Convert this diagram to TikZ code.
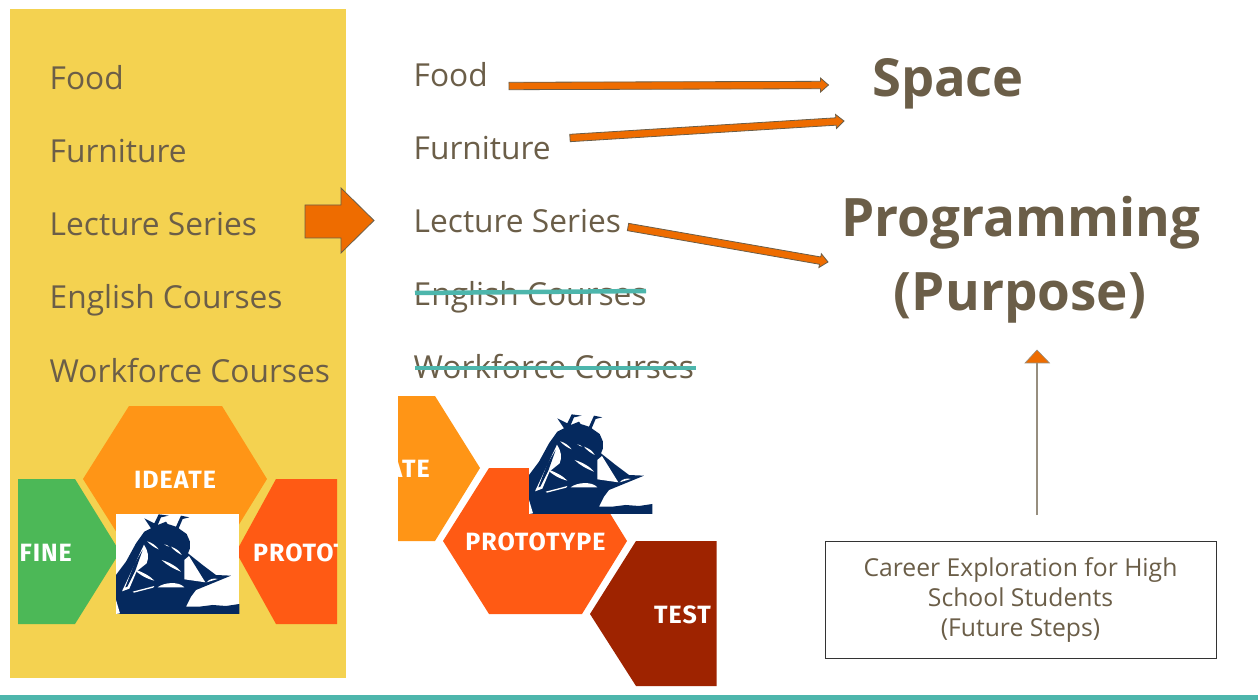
\documentclass[tikz,border=0pt]{standalone}
\usepackage{fontspec}
\setmainfont{Open Sans}
\newfontfamily\hexfont[LetterSpace=4]{Fira Sans}
\usetikzlibrary{calc}
\definecolor{txt}{HTML}{6B5E48}
\definecolor{yel}{HTML}{F4D250}
\definecolor{teal1}{HTML}{4DB6AC}
\definecolor{org}{HTML}{EE6C00}
\definecolor{ideate}{HTML}{FF9516}
\definecolor{definec}{HTML}{4CB857}
\definecolor{proto}{HTML}{FF5A14}
\definecolor{testc}{HTML}{9E2300}
\definecolor{navy}{HTML}{05295E}
\tikzset{
  x=1pt,y=-1pt,
  item/.style={anchor=base west,inner sep=0pt,text=txt,font=\fontsize{31.7}{32}\selectfont},
  head/.style={inner sep=0pt,text=txt,font=\fontsize{53}{53}\selectfont\bfseries},
  hexlabel/.style={inner sep=0pt,text=white,font=\hexfont\fontsize{25}{25}\selectfont\bfseries},
  blockarrow/.style={fill=org,draw=txt,line width=0.8pt},
  strike/.style={draw=teal1,line width=4.5pt},
}
% thin block arrow between two named coordinates
\newcommand{\thinarrow}[2]{%
  \coordinate (neck) at ($(#2)!8pt!(#1)$);
  \draw[blockarrow,line join=miter] ($(#1)!3.7pt!90:(#2)$) -- ($(neck)!3.7pt!90:(#2)$) -- ($(neck)!7pt!90:(#2)$) -- (#2)
    -- ($(neck)!7pt!-90:(#2)$) -- ($(neck)!3.7pt!-90:(#2)$) -- ($(#1)!3.7pt!-90:(#2)$) -- cycle;}
% ship drawn in a white box; #1 = top-left corner of the box
\newcommand{\ship}[1]{%
  \begin{scope}[shift={(#1)},x=0.3333pt,y=-0.3333pt]
   \fill[white] (0,0) rectangle (370,300);
   \fill[navy] (0,300) -- (0,183) -- (30,143) -- (60,88) -- (85,53) -- (105,43) -- (85,13) -- (115,28) -- (128,1) -- (158,5) -- (135,10) -- (125,33)
     -- (150,23) -- (155,30) -- (180,38) -- (195,5) -- (220,10) -- (200,15) -- (188,43) -- (212,60) -- (222,83) -- (222,103) -- (216,118)
     -- (260,153) -- (300,183) -- (345,185) -- (240,228) -- (225,248) -- (210,278) -- (250,278) -- (290,273) -- (330,276) -- (370,270) -- (370,300) -- cycle;
   \fill[white] (219,126) -- (205,138) -- (205,196) -- (268,205) -- cycle;
   \fill[white] (125,220) .. controls (145,204) and (190,202) .. (205,220) -- cycle;
   \fill[white] (272,205) .. controls (280,194) and (295,192) .. (305,195) -- cycle;
   \fill[white] (94,82) .. controls (108,86) and (120,95) .. (128,106) .. controls (114,100) and (102,92) .. (94,82) -- cycle;
   \fill[white] (145,91) .. controls (150,92) and (156,94) .. (160,98) .. controls (155,97) and (149,95) .. (145,91) -- cycle;
   \fill[white] (165,98) .. controls (180,103) and (192,112) .. (197,123) .. controls (184,116) and (173,108) .. (165,98) -- cycle;
   \fill[white] (137,138) .. controls (160,145) and (182,157) .. (195,173) .. controls (172,164) and (152,153) .. (137,138) -- cycle;
   \fill[white] (55,166) .. controls (80,174) and (102,186) .. (115,200) .. controls (92,194) and (70,183) .. (55,166) -- cycle;
   \fill[white] (84,92) .. controls (96,110) and (100,130) .. (92,148) -- (62,172) -- (40,224) -- (18,232) -- cycle;
   \fill[navy] (80,108) -- (58,170) -- (34,218) -- (28,220) -- (55,150) -- cycle;
   \fill[white] (50,233) -- (115,216) -- (112,221) -- (54,236) -- cycle;
   \fill[white] (0,258) -- (12,298) -- (0,300) -- cycle;
  \end{scope}}
\begin{document}
\begin{tikzpicture}
\useasboundingbox (0,0) rectangle (1258,700);
\fill[white] (0,0) rectangle (1258,700);
\fill[teal1] (0,695) rectangle (1258,700);
\fill[yel] (10,9) rectangle (345.5,678);

% left column
\node[item] (lfood) at (49.5,90) {Food};
\node[item] (lfurn) at (49.5,163) {Furniture};
\node[item] (llect) at (49.5,236) {Lecture Series};
\node[item] (leng) at (49.5,309) {English Courses};
\node[item] (lwork) at (49.5,382) {Workforce Courses};

% left hexagons
\fill[ideate] (129,406) -- (222,406) -- (267,479) -- (222,552) -- (129,552) -- (83,479) -- cycle;
\node[hexlabel] (hideate) at (175,480) {IDEATE};
\begin{scope}
 \clip (18,470) rectangle (120,630);
 \fill[definec] (18,479) -- (75,479) -- (120,552) -- (75,624) -- (18,624) -- cycle;
\end{scope}
\node[hexlabel,anchor=east] (hdefine) at (72,553) {FINE};
\begin{scope}
 \clip (235,470) rectangle (337,630);
 \fill[proto] (236,552) -- (276,479) -- (340,479) -- (340,624) -- (276,624) -- cycle;
 \node[hexlabel,anchor=west] (hproto) at (253,553) {PROTOTYPE};
\end{scope}
\ship{116,514}

% big arrow
\draw[blockarrow] (305,205) -- (341,205) -- (341,188) -- (374,220.5) -- (341,253) -- (341,238) -- (305,238) -- cycle;

% middle column
\node[item] (mfood) at (413.5,87) {Food};
\node[item] (mfurn) at (413.5,160) {Furniture};
\node[item] (mlect) at (413.5,233) {Lecture Series};
\node[item] (meng) at (413.5,306) {English Courses};
\node[item] (mwork) at (413.5,379) {Workforce Courses};
\coordinate (e1a) at (415,293); \coordinate (e1b) at (646,291);
\coordinate (e2a) at (415,368); \coordinate (e2b) at (696,368);
\draw[strike] (e1a) -- (e1b);
\draw[strike] (e2a) -- (e2b);

% headings
\node[head,font=\fontsize{52.5}{52}\selectfont\bfseries] (space) at (948,84) {Space};
\node[head] (prog) at (1021,223) {Programming};
\node[head] (purp) at (1020,298) {(Purpose)};

% thin arrows
\coordinate (a1) at (509,86); \coordinate (b1) at (828.5,85);
\coordinate (a2) at (570,138); \coordinate (b2) at (844,121);
\coordinate (a3) at (628,227); \coordinate (b3) at (828,262);
\thinarrow{a1}{b1}
\thinarrow{a2}{b2}
\thinarrow{a3}{b3}

% right hexagons
\begin{scope}
 \clip (398,390) rectangle (490,550);
 \fill[ideate] (398,396) -- (435,396) -- (480,468) -- (435,541) -- (398,541) -- cycle;
 \node[hexlabel,anchor=east] (mideate) at (430,469) {IDEATE};
\end{scope}
\fill[proto] (489,468) -- (582,468) -- (627,541) -- (582,614) -- (489,614) -- (443,541) -- cycle;
\node[hexlabel] (mproto) at (535.5,542) {PROTOTYPE};
\fill[testc] (590,614) -- (636,541) -- (716.5,541) -- (716.5,686) -- (636,686) -- cycle;
\node[hexlabel,anchor=east] (mtest) at (711,615) {TEST};
\ship{529,414}

% career box
\node[draw=black!80,line width=1pt,minimum width=391pt,minimum height=117.5pt,inner sep=0pt,align=center,text=txt,
  font=\fontsize{24.7}{30}\selectfont] (career) at (1020.5,600) {Career Exploration for High\\School Students\\(Future Steps)};
\coordinate (upstart) at (1037,515);
\coordinate (uptip) at (1037,350);
\draw[draw=txt!70,line width=1.5pt] (upstart) -- (1037,362);
\draw[fill=org,draw=txt!70,line width=0.6pt] (uptip) -- (1049.5,363) -- (1025,363) -- cycle;
\end{tikzpicture}
\end{document}
